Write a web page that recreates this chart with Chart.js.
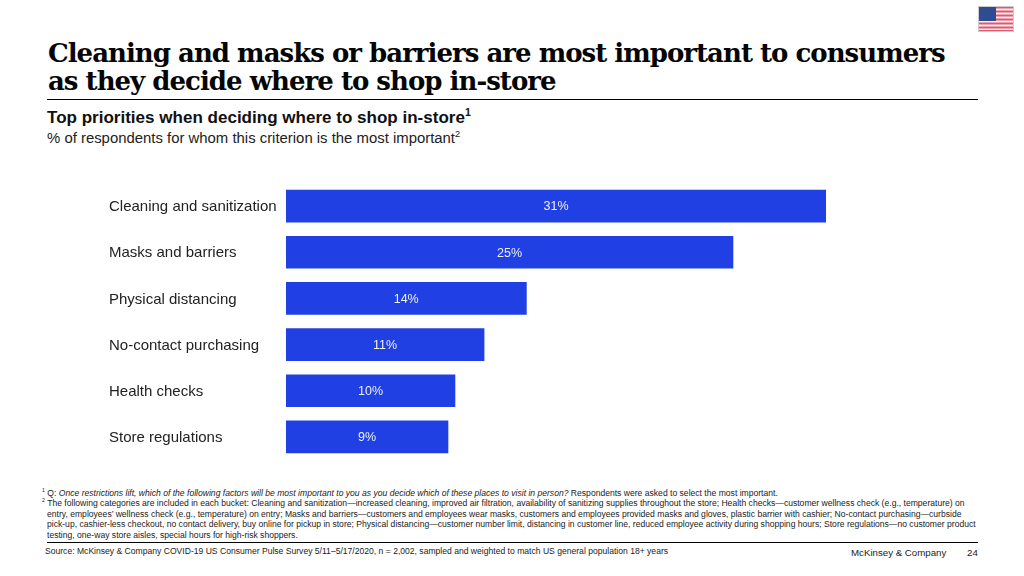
<!DOCTYPE html>
<html><head><meta charset="utf-8">
<style>
html,body{margin:0;padding:0;background:#fff;width:1024px;height:576px;overflow:hidden}
.t{position:absolute;white-space:nowrap;color:#000;font-family:"Liberation Sans",Arial,sans-serif}
.title{left:48px;top:39px;font:bold 26px/28px "DejaVu Serif",serif;color:#050505;letter-spacing:-0.98px}
.rule{position:absolute;background:#000;height:1px}
sup{font-size:62%;line-height:0;vertical-align:super}
.fn{font-size:8.58px;line-height:10.6px;color:#222}
#wrap{position:absolute;left:0;top:164px;width:1024px;height:315px}
#flag{position:absolute;left:978px;top:6px}
</style></head><body>
<div class="t title">Cleaning and masks or barriers are most important to consumers<br>as they decide where to shop in-store</div>
<div class="rule" style="left:47px;top:99px;width:931px"></div>
<div class="t" style="left:47px;top:109px;font-weight:bold;font-size:17.05px;line-height:17px;color:#111">Top priorities when deciding where to shop in-store<sup>1</sup></div>
<div class="t" style="left:47px;top:130px;font-size:14.9px;line-height:16px;color:#222">% of respondents for whom this criterion is the most important<sup>2</sup></div>
<svg id="flag" width="36" height="26" viewBox="0 0 36 26">
<rect width="36" height="26" fill="#fbeef0"/>
<g fill="#dc5a70"><rect y="0.5" width="36" height="2"/><rect y="4.5" width="36" height="2"/><rect y="8.5" width="36" height="2"/><rect y="12.5" width="36" height="2"/><rect y="16.5" width="36" height="2"/><rect y="20.5" width="36" height="2"/><rect y="24" width="36" height="2"/></g>
<rect x="0.5" y="1" width="17.5" height="14" fill="#2e4c92"/>
<rect x=".5" y=".5" width="35" height="25" fill="none" stroke="#cfc8cc"/>
</svg>
<div id="wrap"><canvas id="c"></canvas></div>
<div class="t fn" style="left:42px;top:488px"><sup>1</sup> Q: <i>Once restrictions lift, which of the following factors will be most important to you as you decide which of these places to visit in person?</i> Respondents were asked to select the most important.</div>
<div class="t fn" style="left:42px;top:498px"><sup>2</sup> The following categories are included in each bucket: Cleaning and sanitization—increased cleaning, improved air filtration, availability of sanitizing supplies throughout the store; Health checks—customer wellness check (e.g., temperature) on</div>
<div class="t fn" style="left:47px;top:509px">entry, employees’ wellness check (e.g., temperature) on entry; Masks and barriers—customers and employees wear masks, customers and employees provided masks and gloves, plastic barrier with cashier; No-contact purchasing—curbside</div>
<div class="t fn" style="left:47px;top:519px">pick-up, cashier-less checkout, no contact delivery, buy online for pickup in store; Physical distancing—customer number limit, distancing in customer line, reduced employee activity during shopping hours; Store regulations—no customer product</div>
<div class="t fn" style="left:47px;top:530px">testing, one-way store aisles, special hours for high-risk shoppers.</div>
<div class="rule" style="left:47px;top:542px;width:931px"></div>
<div class="t fn" style="left:45px;top:546px">Source: McKinsey &amp; Company COVID-19 US Consumer Pulse Survey 5/11–5/17/2020, n = 2,002, sampled and weighted to match US general population 18+ years</div>
<div class="t" style="left:851px;top:547px;font-size:9.7px;line-height:11px;color:#222">McKinsey &amp; Company</div>
<div class="t" style="left:967px;top:547px;font-size:9.7px;line-height:11px;color:#222">24</div>
<script src="https://cdn.jsdelivr.net/npm/chart.js@4"></script>
<script>
const categories=["Cleaning and sanitization","Masks and barriers","Physical distancing","No-contact purchasing","Health checks","Store regulations"];
const shares=[31,25.66,13.8,11.37,9.7,9.3];
const shareLabels=["31%","25%","14%","11%","10%","9%"];
const barColor="#2040e3";
const inBarLabels={id:"inBarLabels",afterDatasetsDraw(ch){
  const g=ch.ctx;g.save();g.fillStyle="#eef0fc";g.font='12.5px "Liberation Sans"';g.textAlign="center";g.textBaseline="middle";
  ch.getDatasetMeta(0).data.forEach((b,i)=>g.fillText(shareLabels[i],(b.x+b.base)/2,b.y+(i?1:0)));
  g.restore();
}};
new Chart(document.getElementById("c"),{
  type:"bar",
  data:{labels:categories,datasets:[{data:shares,backgroundColor:barColor,borderWidth:0,barThickness:32}]},
  options:{
    indexAxis:"y",responsive:true,maintainAspectRatio:false,animation:false,
    layout:{autoPadding:false,padding:{left:109,right:198,top:0,bottom:0}},
    plugins:{legend:{display:false},tooltip:{enabled:false}},
    scales:{
      x:{display:false,min:0,max:31,grid:{display:false}},
      y:{grid:{display:false},border:{display:false},
         afterFit(s){s.width=177},
         ticks:{color:"#222",padding:10,labelOffset:1,crossAlign:"far",font:{family:'"Liberation Sans"',size:15}}}
    }
  },
  plugins:[inBarLabels]
});
</script>
</body></html>
